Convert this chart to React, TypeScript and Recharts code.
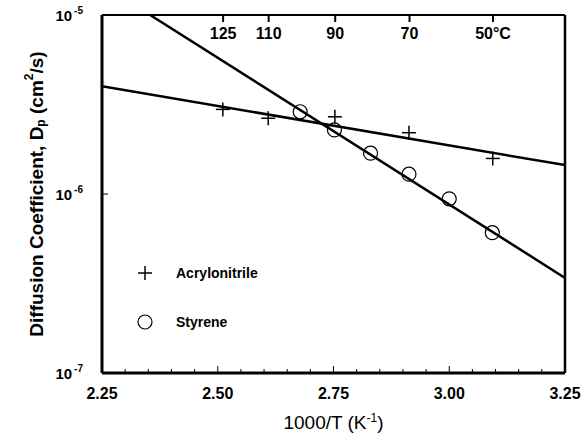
import React from 'react';
import { ComposedChart, Line, Scatter, XAxis, YAxis } from 'recharts';

// 1000/T (K^-1) vs diffusion coefficient (cm2/s)
const acrylX = [2.511, 2.609, 2.753, 2.913, 3.094];
const acrylD = [2.97e-6, 2.65e-6, 2.7e-6, 2.2e-6, 1.58e-6];
const styreneX = [2.678, 2.752, 2.83, 2.913, 3.0, 3.093];
const styreneD = [2.88e-6, 2.28e-6, 1.69e-6, 1.29e-6, 9.4e-7, 6.08e-7];

// fitted lines, end points
const acrylFitX = [2.25, 3.25];
const acrylFitD = [4.0e-6, 1.45e-6];
const styreneFitX = [2.354, 3.25];
const styreneFitD = [1.0e-5, 3.4e-7];

const xTicks = [2.25, 2.3, 2.35, 2.4, 2.45, 2.5, 2.55, 2.6, 2.65, 2.7, 2.75, 2.8, 2.85, 2.9, 2.95, 3.0, 3.05, 3.1, 3.15, 3.2, 3.25];
const xMajor = [2.25, 2.5, 2.75, 3.0, 3.25];
const yTicks = [1e-7, 1e-6, 1e-5];
const tempC = [125, 110, 90, 70, 50];

const toPts = (xs: number[], ys: number[]) => xs.map((x, i) => ({ x, d: ys[i] }));
const acryl = toPts(acrylX, acrylD);
const styrene = toPts(styreneX, styreneD);
const acrylFit = toPts(acrylFitX, acrylFitD);
const styreneFit = toPts(styreneFitX, styreneFitD);

const FONT = '"Liberation Sans", Arial, sans-serif';

const BottomTick = ({ x, y, payload }: any) => {
  const major = xMajor.some((m) => Math.abs(m - payload.value) < 1e-6);
  return (
    <g>
      <line x1={x} y1={y} x2={x} y2={y - (major ? 7 : 4)} stroke="#000" strokeWidth={1} />
      {major && (
        <text x={x} y={y + 26} textAnchor="middle" fontFamily={FONT} fontWeight="bold" fontSize={16} fill="#000">
          {payload.value.toFixed(2)}
        </text>
      )}
    </g>
  );
};

const TopTick = ({ x, y, index }: any) => (
  <g>
    <line x1={x} y1={y} x2={x} y2={y + 7} stroke="#000" strokeWidth={2} />
    <text x={x} y={y + 24} textAnchor="middle" fontFamily={FONT} fontWeight="bold" fontSize={16} fill="#000">
      {tempC[index] + (index === tempC.length - 1 ? '°C' : '')}
    </text>
  </g>
);

const LeftTick = ({ x, y, payload }: any) => {
  const exp = Math.round(Math.log10(payload.value));
  return (
    <g>
      <line x1={x} y1={y} x2={x + 6} y2={y} stroke="#000" strokeWidth={1} />
      <text x={x - 19} y={y + 6} textAnchor="end" fontFamily={FONT} fontWeight="bold" fontSize={15} fill="#000">
        10
        <tspan fontSize={10} dx={2} dy={-7}>{exp}</tspan>
      </text>
    </g>
  );
};

const Plus = ({ cx, cy }: any) => (
  <g>
    <line x1={cx - 7} y1={cy} x2={cx + 7} y2={cy} stroke="#000" strokeWidth={1.5} />
    <line x1={cx} y1={cy - 7} x2={cx} y2={cy + 7} stroke="#000" strokeWidth={1.5} />
  </g>
);

const Ring = ({ cx, cy }: any) => <circle cx={cx} cy={cy} r={7} fill="none" stroke="#000" strokeWidth={1.2} />;

const LegendBox = () => (
  <div style={{ position: 'absolute', left: 137, top: 263, fontFamily: FONT, fontWeight: 'bold', fontSize: 14 }}>
    <div style={{ display: 'flex', alignItems: 'center', height: 20 }}>
      <svg width={16} height={16} style={{ marginRight: 23 }}>
        <Plus cx={8} cy={8} />
      </svg>
      Acrylonitrile
    </div>
    <div style={{ display: 'flex', alignItems: 'center', height: 20, marginTop: 29 }}>
      <svg width={16} height={16} style={{ marginRight: 23 }}>
        <Ring cx={8} cy={8} />
      </svg>
      Styrene
    </div>
  </div>
);

const YTitle = ({ viewBox }: any) => {
  const cx = 36;
  const cy = viewBox.y + viewBox.height / 2;
  return (
    <text
      x={cx}
      y={cy}
      transform={`rotate(-90 ${cx} ${cy})`}
      textAnchor="middle"
      dominantBaseline="central"
      fontFamily={FONT}
      fontWeight="bold"
      fontSize={19}
      fill="#000"
    >
      Diffusion Coefficient, D
      <tspan fontSize={12} dy={5}>p</tspan>
      <tspan dy={-5}> (cm</tspan>
      <tspan fontSize={12} dy={-7}>2</tspan>
      <tspan dy={7}>/s)</tspan>
    </text>
  );
};

const XTitle = ({ viewBox }: any) => {
  const cx = viewBox.x + viewBox.width / 2;
  return (
    <text x={cx} y={429} textAnchor="middle" fontFamily={FONT} fontSize={19} fill="#000">
      1000/T (K
      <tspan fontSize={12} dy={-7}>-1</tspan>
      <tspan dy={7}>)</tspan>
    </text>
  );
};

export default function App() {
  return (
    <div style={{ position: 'absolute', left: 0, top: 0, width: 583, height: 440, background: '#fff' }}>
      <ComposedChart width={583} height={440} margin={{ top: 14, right: 17, bottom: 0, left: 0 }}>
        <XAxis
          type="number"
          dataKey="x"
          domain={[2.25, 3.25]}
          ticks={xTicks}
          interval={0}
          height={67}
          tickSize={0}
          tickMargin={0}
          tick={<BottomTick />}
          axisLine={{ stroke: '#000', strokeWidth: 3 }}
          allowDataOverflow
          label={<XTitle />}
        />
        <XAxis
          xAxisId="top"
          orientation="top"
          type="number"
          dataKey="x"
          domain={[2.25, 3.25]}
          ticks={tempC.map((t) => 1000 / (t + 273.15))}
          interval={0}
          height={1}
          tickSize={0}
          tickMargin={0}
          tick={<TopTick />}
          axisLine={{ stroke: '#000', strokeWidth: 2 }}
          allowDataOverflow
        />
        <YAxis
          type="number"
          scale="log"
          domain={[1e-7, 1e-5]}
          ticks={yTicks}
          interval={0}
          width={102}
          tickSize={0}
          tickMargin={0}
          tick={<LeftTick />}
          axisLine={{ stroke: '#000', strokeWidth: 3 }}
          allowDataOverflow
          label={<YTitle />}
        />
        <YAxis
          yAxisId="r"
          orientation="right"
          type="number"
          domain={[0, 1]}
          width={1}
          tick={false}
          tickLine={false}
          axisLine={{ stroke: '#000', strokeWidth: 2.5 }}
        />
        <Line data={acrylFit} dataKey="d" stroke="#000" strokeWidth={2.5} dot={false} isAnimationActive={false} />
        <Line data={styreneFit} dataKey="d" stroke="#000" strokeWidth={2.5} dot={false} isAnimationActive={false} />
        <Scatter data={acryl} dataKey="d" shape={<Plus />} isAnimationActive={false} />
        <Scatter data={styrene} dataKey="d" shape={<Ring />} isAnimationActive={false} />
      </ComposedChart>
      <LegendBox />
    </div>
  );
}
